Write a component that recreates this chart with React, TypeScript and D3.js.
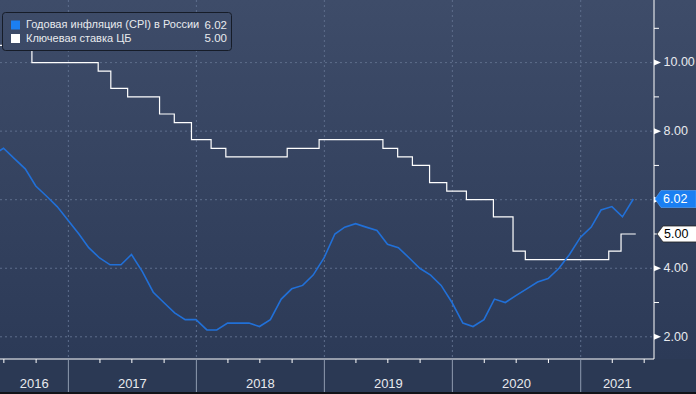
import React from 'react';
import * as d3 from 'd3';

// Годовая инфляция (CPI), monthly, starting May 2016
const cpiStartMonth = '2016-05';
const cpi2016 = [7.3, 7.5, 7.2, 6.9, 6.4, 6.1, 5.8, 5.4];
const cpi2017 = [5.0, 4.6, 4.3, 4.1, 4.1, 4.4, 3.9, 3.3, 3.0, 2.7, 2.5, 2.5];
const cpi2018 = [2.2, 2.2, 2.4, 2.4, 2.4, 2.3, 2.5, 3.1, 3.4, 3.5, 3.8, 4.3];
const cpi2019 = [5.0, 5.2, 5.3, 5.2, 5.1, 4.7, 4.6, 4.3, 4.0, 3.8, 3.5, 3.0];
const cpi2020 = [2.4, 2.3, 2.5, 3.1, 3.0, 3.2, 3.4, 3.6, 3.7, 4.0, 4.4, 4.9];
const cpi2021 = [5.2, 5.7, 5.8, 5.5, 6.02];

// Ключевая ставка ЦБ: dates of change and new level
const rateDates = [
  '2016-06-14', '2016-09-19', '2017-03-27', '2017-05-02', '2017-06-19', '2017-09-18',
  '2017-10-30', '2017-12-18', '2018-02-12', '2018-03-26', '2018-09-17', '2018-12-17',
  '2019-06-17', '2019-07-29', '2019-09-09', '2019-10-28', '2019-12-16', '2020-02-10',
  '2020-04-27', '2020-06-22', '2020-07-27', '2021-03-22', '2021-04-26', '2021-06-07',
];
const rateValues = [
  10.5, 10.0, 9.75, 9.25, 9.0, 8.5,
  8.25, 7.75, 7.5, 7.25, 7.5, 7.75,
  7.5, 7.25, 7.0, 6.5, 6.25, 6.0,
  5.5, 4.5, 4.25, 4.5, 5.0, 5.0,
];

const yearLabels = ['2016', '2017', '2018', '2019', '2020', '2021'];
const yTicks = [2, 4, 6, 8, 10];
const yMinorTicks = [3, 5, 7, 9, 11];

const seriesNames = ['Годовая инфляция (CPI) в России', 'Ключевая ставка ЦБ'];
const lastValues = ['6.02', '5.00'];

const W = 696;
const H = 394;
const plotW = 654;
const plotH = 359;
const FONT = '"Liberation Sans", Arial, sans-serif';
const BLUE = '#2170d8';

export default function App() {
  const x = d3.scaleUtc()
    .domain([new Date(Date.UTC(2016, 5, 20)), new Date(Date.UTC(2021, 6, 29))])
    .range([0, plotW]);
  const y = d3.scaleLinear().domain([2, 10]).range([336.8, 62.6]);

  const cpiValues = [...cpi2016, ...cpi2017, ...cpi2018, ...cpi2019, ...cpi2020, ...cpi2021];
  const start = d3.utcParse('%Y-%m')(cpiStartMonth) as Date;
  const cpi = cpiValues.map((v, i) => ({
    date: d3.utcDay.offset(d3.utcMonth.offset(start, i + 1), -1),
    value: v,
  }));
  const rate = rateDates.map((d, i) => ({ date: d3.utcParse('%Y-%m-%d')(d) as Date, value: rateValues[i] }));

  const cpiLine = d3.line<{ date: Date; value: number }>()
    .x(d => x(d.date))
    .y(d => y(d.value));
  const rateLine = d3.line<{ date: Date; value: number }>()
    .x(d => x(d.date))
    .y(d => y(d.value))
    .curve(d3.curveStepAfter);

  const years = yearLabels.map(l => new Date(Date.UTC(+l, 0, 1)));
  const quarters = d3.utcMonth.every(3)!.range(x.domain()[0], x.domain()[1])
    .filter(d => d.getUTCMonth() !== 0);

  const yCpi = y(6.02);
  const yRate = y(5.0);

  return (
    <div style={{ position: 'fixed', left: 0, top: 0 }}>
      <svg width={W} height={H} style={{ display: 'block', fontFamily: FONT }}>
        <defs>
          <linearGradient id="bg" x1="0" y1="0" x2="0" y2={plotH} gradientUnits="userSpaceOnUse">
            <stop offset="0" stopColor="#3e4c69" />
            <stop offset="1" stopColor="#2c3a57" />
          </linearGradient>
          <clipPath id="plot">
            <rect x={0} y={0} width={plotW} height={plotH} />
          </clipPath>
        </defs>

        <rect x={0} y={0} width={W} height={H} fill="#2b3954" />
        <rect x={0} y={0} width={W} height={plotH} fill="url(#bg)" />

        {/* grid */}
        {yTicks.map(t => (
          <line key={t} x1={0} x2={plotW} y1={y(t)} y2={y(t)}
            stroke="#5e6e8c" strokeDasharray="2,3" />
        ))}
        {years.slice(1).map((d, i) => (
          <line key={i} x1={x(d)} x2={x(d)} y1={0} y2={plotH}
            stroke="#5e6e8c" strokeDasharray="2,3" />
        ))}

        {/* series */}
        <g clipPath="url(#plot)">
          <path d={rateLine(rate) || ''} fill="none" stroke="#ffffff" strokeWidth={1.2} />
          <path d={cpiLine(cpi) || ''} fill="none" stroke={BLUE} strokeWidth={1.6} />
        </g>

        {/* bottom axis */}
        <line x1={0} x2={plotW} y1={plotH} y2={plotH} stroke="#ffffff" />
        {quarters.map((d, i) => (
          <line key={i} x1={x(d)} x2={x(d)} y1={plotH} y2={plotH + 4} stroke="#ffffff" />
        ))}
        {years.slice(1).map((d, i) => (
          <line key={i} x1={x(d)} x2={x(d)} y1={plotH} y2={H} stroke="#8f9bb0" />
        ))}
        {years.map((d, i) => {
          const a = Math.max(0, x(d));
          const b = i < years.length - 1 ? x(years[i + 1]) : plotW;
          return (
            <text key={i} x={(a + b) / 2} y={plotH + 26} fill="#e8eaee" fontSize={13}
              textAnchor="middle" dominantBaseline="middle">
              {yearLabels[i]}
            </text>
          );
        })}
        <rect x={0} y={H - 2} width={W} height={2} fill="#111318" />

        {/* right axis */}
        <line x1={plotW} x2={plotW} y1={0} y2={plotH} stroke="#ffffff" />
        {yMinorTicks.map(t => (
          <line key={t} x1={plotW} x2={plotW + 5} y1={y(t)} y2={y(t)} stroke="#ffffff" />
        ))}
        {yTicks.map(t => (
          <g key={t}>
            <path d={`M${plotW},${y(t) - 3}L${plotW + 7},${y(t)}L${plotW},${y(t) + 3}Z`} fill="#ffffff" />
            <text x={plotW + 9.5} y={y(t) + 0.5} fill="#e8eaee" fontSize={12.5} dominantBaseline="middle">
              {d3.format('.2f')(t)}
            </text>
          </g>
        ))}

        {/* last value tags */}
        <path d={`M${plotW + 1},${yCpi}L${plotW + 7},${yCpi - 8.5}L${W},${yCpi - 8.5}L${W},${yCpi + 8.5}L${plotW + 7},${yCpi + 8.5}Z`}
          fill="#1b7ff2" stroke="#5aa6ff" strokeWidth={0.6} />
        <text x={plotW + 9} y={yCpi + 0.5} fill="#ffffff" fontSize={12.5} dominantBaseline="middle">{lastValues[0]}</text>
        <path d={`M${plotW + 3},${yRate}L${plotW + 9},${yRate - 8}L${W + 1},${yRate - 8}L${W + 1},${yRate + 8}L${plotW + 9},${yRate + 8}Z`}
          fill="#ffffff" stroke="#222" strokeWidth={0.8} />
        <text x={plotW + 10} y={yRate + 0.5} fill="#000000" fontSize={12.5} dominantBaseline="middle">{lastValues[1]}</text>

        {/* legend */}
        <rect x={2.5} y={12.5} width={229} height={38} rx={3} fill="url(#bg)" stroke="#161c28" />
        {seriesNames.map((name, i) => {
          const cy = 25 + i * 13.5;
          return (
            <g key={name}>
              <rect x={11} y={cy - 4.5} width={9} height={9} fill={i === 0 ? '#1b7ff2' : '#ffffff'} />
              <text x={26} y={cy + 0.5} fill="#e8eaee" fontSize={11} dominantBaseline="middle">{name}</text>
              <text x={227} y={cy + 0.5} fill="#e8eaee" fontSize={11.5} textAnchor="end" dominantBaseline="middle">
                {lastValues[i]}
              </text>
            </g>
          );
        })}
      </svg>
    </div>
  );
}
